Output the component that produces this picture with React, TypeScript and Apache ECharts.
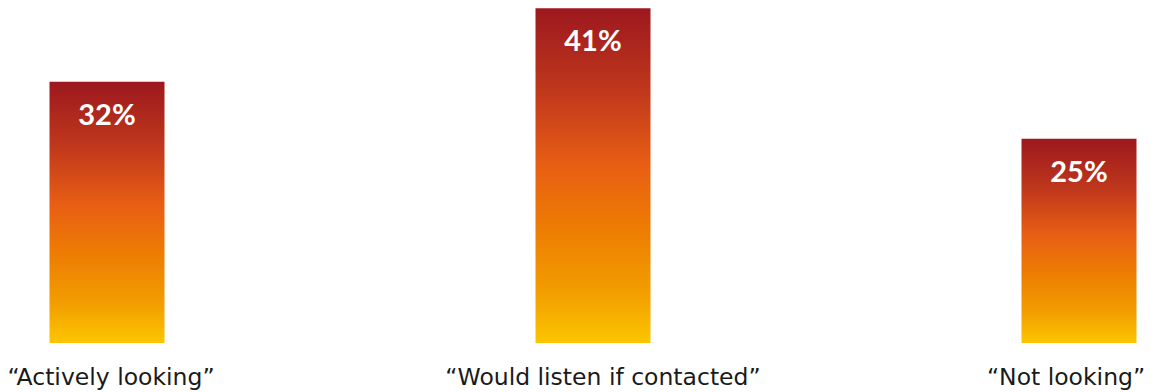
import React, { useEffect, useRef } from "react";
import * as echarts from "echarts";

const categories = ["“Actively looking”", "“Would listen if contacted”", "“Not looking”"];
const values = [32, 41, 25];
const valueLabels = ["32%", "41%", "25%"];

export default function App() {
  const ref = useRef<HTMLDivElement>(null);
  useEffect(() => {
    if (!ref.current) return;
    const chart = echarts.init(ref.current, null, { renderer: "svg" });
    const gradient = new echarts.graphic.LinearGradient(0, 0, 0, 1, [
      { offset: 0, color: "#9C181E" },
      { offset: 0.25, color: "#C0381C" },
      { offset: 0.47, color: "#E85E14" },
      { offset: 0.65, color: "#ED7B03" },
      { offset: 0.85, color: "#F29E00" },
      { offset: 1, color: "#FCC600" },
    ]);
    const labelPadding = [
      [0, 0, 0, 8],
      [0, 0, 0, 20],
      [0, 26, 0, 0],
    ];
    chart.setOption({
      animation: false,
      grid: {
        left: 107,
        right: 75,
        top: 0,
        bottom: 49,
        containLabel: false,
        outerBoundsMode: "none",
      },
      xAxis: {
        type: "category",
        data: categories.map((c, i) => ({
          value: c,
          textStyle: { padding: labelPadding[i] },
        })),
        boundaryGap: false,
        axisLine: { show: false },
        axisTick: { show: false },
        axisLabel: {
          interval: 0,
          margin: 22,
          fontSize: 23.5,
          color: "#1a1a1a",
          fontFamily: "DejaVu Sans",
        },
      },
      yAxis: {
        type: "value",
        min: 0,
        max: 42,
        show: false,
        splitLine: { show: false },
      },
      series: [
        {
          type: "bar",
          data: values,
          barWidth: 115,
          itemStyle: { color: gradient },
          label: {
            show: true,
            position: "insideTop",
            distance: 17,
            formatter: (p: any) => valueLabels[p.dataIndex],
            color: "#ffffff",
            fontSize: 29,
            fontWeight: "bold",
            fontFamily: "Lato",
          },
        },
      ],
    });
    return () => chart.dispose();
  }, []);
  return (
    <div
      ref={ref}
      style={{ position: "absolute", left: 0, top: 0, width: 1154, height: 392 }}
    />
  );
}
